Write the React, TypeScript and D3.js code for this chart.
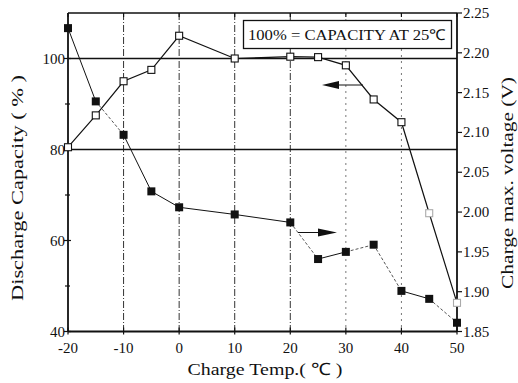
import React from "react";
import * as d3 from "d3";

const temps = [-20, -15, -10, -5, 0, 10, 20, 25, 30, 35, 40, 45, 50];
const capacity = [80.5, 87.5, 95, 97.5, 105, 100, 100.4, 100.3, 98.5, 91, 86, 66, 46.3];
const voltTemps = [-20, -15, -10, -5, 0, 10, 20, 25, 30, 35, 40, 45, 50];
const voltage = [2.231, 2.139, 2.097, 2.026, 2.006, 1.997, 1.987, 1.941, 1.95, 1.959, 1.901, 1.891, 1.861];
const voltSegDashed = [false, true, false, false, false, false, true, false, true, true, false, true];
const xTicks = [-20, -10, 0, 10, 20, 30, 40, 50];
const yLeftTicks = [40, 60, 80, 100];
const yLeftMinor = [50, 70, 90];
const yRightTicks = [1.85, 1.9, 1.95, 2.0, 2.05, 2.1, 2.15, 2.2, 2.25];

const W = 518, H = 383;
const L = 68, R = 457, T = 13, B = 331.5;

export default function App() {
  const x = d3.scaleLinear().domain([-20, 50]).range([L, R]);
  const yL = d3.scaleLinear().domain([40, 110]).range([B, T]);
  const yR = d3.scaleLinear().domain([1.85, 2.25]).range([B, T]);
  const fs = { fontFamily: `"Liberation Serif"` };
  const capLine = d3.line<number>().x((_, i) => x(temps[i])).y((d) => yL(d));

  return (
    <svg width={W} height={H} style={{ position: "absolute", left: 0, top: 0 }}>
      <rect width={W} height={H} fill="#fff" />
      {[-10, 0, 10, 20, 30, 40].map((t) => (
        <line key={t} x1={x(t)} x2={x(t)} y1={T} y2={B}
          stroke={t >= 30 ? "#777" : "#333"} strokeWidth={1}
          strokeDasharray={t >= 30 ? "2,4" : "7,2,1,2"} />
      ))}
      {[80, 100].map((v) => (
        <line key={v} x1={L} x2={R} y1={yL(v)} y2={yL(v)} stroke="#111" strokeWidth={1.6} />
      ))}
      <line x1={L} x2={R} y1={T} y2={T} stroke="#111" strokeWidth={1.6} />
      <line x1={L} x2={R} y1={B} y2={B} stroke="#111" strokeWidth={1.8} />
      <line x1={L} x2={L} y1={T} y2={B} stroke="#111" strokeWidth={1.8} />
      <line x1={R} x2={R} y1={T} y2={B} stroke="#111" strokeWidth={1.8} />
      {xTicks.map((t) => (
        <g key={t}>
          <line x1={x(t)} x2={x(t)} y1={B - 4} y2={B + 3} stroke="#111" strokeWidth={1.2} />
          <line x1={x(t)} x2={x(t)} y1={T} y2={T + 4} stroke="#111" strokeWidth={1.2} />
          <text x={x(t)} y={353} textAnchor="middle" fontSize={15} fill="#111" style={fs}>{t < 0 ? "-" + Math.abs(t) : String(t)}</text>
        </g>
      ))}
      {yLeftTicks.map((v) => (
        <g key={v}>
          <line x1={L - 4} x2={L + 3} y1={yL(v)} y2={yL(v)} stroke="#111" strokeWidth={1.2} />
          <text x={L - 3} y={yL(v) + 5} textAnchor="end" fontSize={15} fill="#111" style={fs}>{String(v)}</text>
        </g>
      ))}
      {yLeftMinor.map((v) => (
        <line key={v} x1={L - 3} x2={L + 2} y1={yL(v)} y2={yL(v)} stroke="#111" strokeWidth={1.2} />
      ))}
      {yRightTicks.map((v) => (
        <g key={v}>
          <line x1={R} x2={R + 5} y1={yR(v)} y2={yR(v)} stroke="#111" strokeWidth={1.2} />
          <text x={R + 6} y={yR(v) + 5} textAnchor="start" fontSize={15} fill="#111" style={fs}>{v.toFixed(2)}</text>
        </g>
      ))}
      <path d={capLine(capacity) || ""} fill="none" stroke="#111" strokeWidth={1.2} />
      {capacity.map((c, i) => (
        <rect key={i} x={x(temps[i]) - 3.5} y={yL(c) - 3.5} width={7} height={7}
          fill="#fff" stroke={i === 11 || i === 12 ? "#aaa" : "#111"} strokeWidth={1.1} />
      ))}
      {voltage.slice(0, -1).map((v, i) => (
        <line key={i} x1={x(voltTemps[i])} y1={yR(v)} x2={x(voltTemps[i + 1])} y2={yR(voltage[i + 1])}
          stroke={voltSegDashed[i] ? "#555" : "#111"} strokeWidth={1}
          strokeDasharray={voltSegDashed[i] ? "3,2" : undefined} />
      ))}
      {voltage.map((v, i) => (
        <rect key={i} x={x(voltTemps[i]) - 4} y={yR(v) - 4} width={8} height={8} fill="#111" />
      ))}
      <line x1={336} x2={363} y1={85} y2={85} stroke="#111" strokeWidth={1} />
      <polygon points="322,85 339,81 339,89" fill="#111" />
      <line x1={298} x2={320} y1={232.5} y2={232.5} stroke="#111" strokeWidth={1} />
      <polygon points="337,232.5 318,228.5 318,236.5" fill="#111" />
      <rect x={243.5} y={20.5} width={208} height={28} fill="#fff" stroke="#111" strokeWidth={1.3} />
      <text x={248} y={40} textAnchor="start" fontSize={15} fill="#111" style={fs} textLength={198} lengthAdjust="spacingAndGlyphs">100% = CAPACITY AT 25℃</text>
      <text transform="translate(23,188) rotate(-90)" textAnchor="middle" fontSize={17} fill="#111" style={fs} textLength={226} lengthAdjust="spacingAndGlyphs">Discharge Capacity ( % )</text>
      <text transform="translate(513,183) rotate(-90)" textAnchor="middle" fontSize={17} fill="#111" style={fs} textLength={212} lengthAdjust="spacingAndGlyphs">Charge max. voltage (V)</text>
      <text x={265} y={375} textAnchor="middle" fontSize={17} fill="#111" style={fs} textLength={155} lengthAdjust="spacingAndGlyphs">Charge Temp.( ℃ )</text>
    </svg>
  );
}
